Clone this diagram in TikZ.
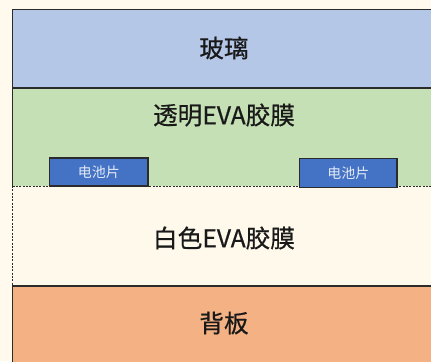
\documentclass[tikz,border=0pt]{standalone}
\usepackage{fontspec}
\newfontfamily\cjk[FakeBold=0.6]{Noto Sans CJK SC}
\newfontfamily\cjkcell{Noto Sans CJK SC}
\definecolor{bgc}{HTML}{FFF9EE}
\definecolor{glass}{HTML}{B4C7E7}
\definecolor{greenc}{HTML}{C5E0B4}
\definecolor{whiteeva}{HTML}{FFF9EC}
\definecolor{back}{HTML}{F4B183}
\definecolor{cellc}{HTML}{4472C4}
\definecolor{edge}{HTML}{2B2B2B}
\tikzset{
  layerlabel/.style={font=\cjk\fontsize{18.5}{21}\selectfont, text=black!90},
  cell/.style={draw=edge, line width=0.8pt, fill=cellc},
  celllabel/.style={font=\cjkcell\fontsize{10.5}{12}\selectfont, text=white!85!cellc},
  solidedge/.style={draw=edge, line width=0.9pt},
  dashedge/.style={draw=edge, line width=0.7pt, dash pattern=on 1.5pt off 1pt}
}
\begin{document}
\begin{tikzpicture}[x=0.75pt,y=-0.75pt]
\useasboundingbox (0,0) rectangle (431,361);
\clip (0,0) rectangle (431,361);
\fill[bgc] (0,0) rectangle (431,361);
% layers
\fill[glass] (12.5,9.5) rectangle (440,88);
\fill[greenc] (12.5,88) rectangle (440,186);
\fill[whiteeva] (12.5,186) rectangle (440,286);
\fill[back] (12.5,286) rectangle (440,370);
% edges
\coordinate (gtl) at (12.5,9.5);
\coordinate (gtr) at (440,9.5);
\coordinate (gbl) at (12.5,88);
\coordinate (gbr) at (440,88);
\coordinate (ebl) at (12.5,186);
\coordinate (ebr) at (440,186);
\coordinate (wbl) at (12.5,286);
\coordinate (wbr) at (440,286);
\coordinate (bbl) at (12.5,370);
\draw[solidedge] (gtr) -- (gtl) -- (ebl);
\draw[solidedge] (gbl) -- (gbr);
\draw[dashedge] (ebl) -- (ebr);
\draw[dashedge] (ebl) -- (wbl);
\draw[solidedge] (wbr) -- (wbl) -- (bbl);
% labels
\node[layerlabel] (glasslbl) at (224,48) {玻璃};
\node[layerlabel] (evatop) at (224,115) {透明EVA胶膜};
\node[layerlabel] (evabot) at (224,238) {白色EVA胶膜};
\node[layerlabel] (backlbl) at (224,323) {背板};
% cells
\draw[cell] (49.5,158) rectangle (148,186);
\node[celllabel] (cell1) at (98.75,172) {电池片};
\draw[cell] (299.5,158.5) rectangle (397,187.5);
\node[celllabel] (cell2) at (348.25,173) {电池片};
\end{tikzpicture}
\end{document}
